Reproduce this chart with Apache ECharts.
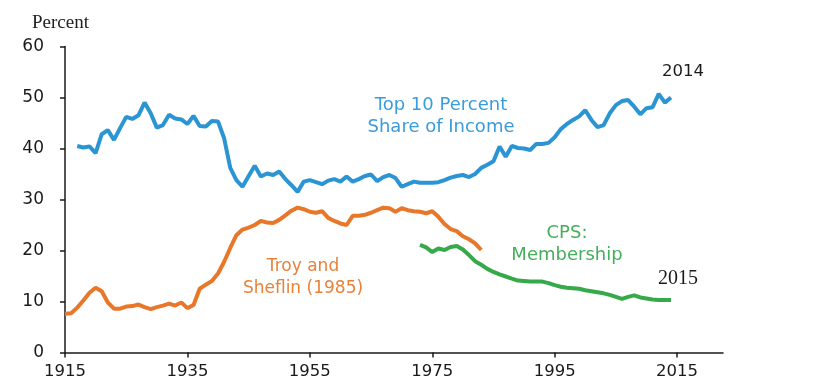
<!DOCTYPE html>
<html>
<head>
<meta charset="utf-8">
<script src="https://cdn.jsdelivr.net/npm/echarts@6/dist/echarts.min.js"></script>
<style>html,body{margin:0;padding:0;background:#fff}#c{width:830px;height:392px}</style>
</head>
<body>
<div id="c"></div>
<script>
// Top 10 percent share of income, 1917-2014
const topYears = [];
for (let y = 1917; y <= 2014; y++) topYears.push(y);
const topShare = [40.5,40.2,40.4,39.1,42.8,43.6,41.7,44.0,46.2,45.8,
  46.5,49.0,46.9,44.1,44.6,46.6,45.9,45.7,44.8,46.4,
  44.4,44.3,45.4,45.3,42.0,36.2,33.8,32.5,34.6,36.6,
  34.5,35.1,34.8,35.5,34.0,32.8,31.5,33.5,33.8,33.4,
  33.0,33.7,34.0,33.5,34.5,33.5,34.0,34.6,34.9,33.6,
  34.4,34.8,34.2,32.5,33.0,33.5,33.3,33.3,33.3,33.4,
  33.8,34.3,34.6,34.8,34.4,35.0,36.2,36.8,37.5,40.4,
  38.4,40.5,40.1,40.0,39.7,40.9,40.9,41.1,42.2,43.8,
  44.8,45.6,46.3,47.5,45.6,44.2,44.6,46.9,48.5,49.3,
  49.5,48.2,46.7,47.9,48.1,50.7,49.0,50.0];

// Troy and Sheflin (1985), 1915-1983
const troyYears = [];
for (let y = 1915; y <= 1983; y++) troyYears.push(y);
const troyShare = [7.6,7.7,8.8,10.2,11.7,12.7,12.0,9.8,8.6,8.6,
  9.0,9.1,9.4,8.9,8.5,8.9,9.2,9.6,9.2,9.8,
  8.7,9.3,12.5,13.3,14.0,15.5,17.8,20.5,23.0,24.1,
  24.5,25.0,25.8,25.5,25.4,26.0,26.9,27.8,28.4,28.1,
  27.6,27.4,27.7,26.4,25.8,25.3,25.0,26.8,26.8,27.0,
  27.4,27.9,28.4,28.3,27.6,28.3,27.9,27.7,27.6,27.3,
  27.7,26.6,25.2,24.2,23.8,22.8,22.2,21.4,20.1];

// CPS: Membership, 1973-2014
const cpsYears = [];
for (let y = 1973; y <= 2014; y++) cpsYears.push(y);
const cpsShare = [21.1,20.6,19.7,20.4,20.1,20.7,20.9,20.2,19.1,17.9,
  17.2,16.4,15.8,15.3,14.9,14.5,14.1,14.0,13.9,13.9,
  13.9,13.6,13.2,12.9,12.7,12.6,12.5,12.2,12.0,11.8,
  11.6,11.3,10.9,10.5,10.9,11.2,10.8,10.6,10.4,10.3,
  10.3,10.3];

const xTicks = [1915, 1935, 1955, 1975, 1995, 2015];
const yTicks = [0, 10, 20, 30, 40, 50, 60];

const pair = (xs, vs) => xs.map((x, i) => [x, vs[i]]);

const chart = echarts.init(document.getElementById('c'), null, {renderer: 'canvas'});
const axisColor = '#1a1a1a';
const tickFont = 'DejaVu Sans';
chart.setOption({
  animation: false,
  backgroundColor: '#fff',
  grid: {left: 65, right: 107, top: 46.5, bottom: 39.5, containLabel: false},
  xAxis: {
    type: 'value', min: 1915, max: 2022.5, interval: 20,
    splitLine: {show: false},
    axisLine: {show: true, lineStyle: {color: axisColor, width: 1.5}},
    axisTick: {show: true, length: 5, lineStyle: {color: axisColor, width: 1.5}, customValues: xTicks},
    axisLabel: {color: axisColor, fontSize: 16.5, fontFamily: tickFont, margin: 11, customValues: xTicks,
      formatter: v => String(v)}
  },
  yAxis: {
    type: 'value', min: 0, max: 60, interval: 10,
    splitLine: {show: false},
    axisLine: {show: true, lineStyle: {color: axisColor, width: 1.5}},
    axisTick: {show: true, length: 5, lineStyle: {color: axisColor, width: 1.5}, customValues: yTicks},
    axisLabel: {color: axisColor, fontSize: 17, fontFamily: tickFont, margin: 21, customValues: yTicks}
  },
  series: [
    {type: 'line', name: 'Top 10 Percent', data: pair(topYears, topShare), showSymbol: false,
      lineStyle: {color: '#2b94d3', width: 4}, itemStyle: {color: '#2b94d3'}},
    {type: 'line', name: 'Troy and Sheflin', data: pair(troyYears, troyShare), showSymbol: false,
      lineStyle: {color: '#e8772a', width: 4}, itemStyle: {color: '#e8772a'}},
    {type: 'line', name: 'CPS', data: pair(cpsYears, cpsShare), showSymbol: false,
      lineStyle: {color: '#36a94a', width: 4}, itemStyle: {color: '#36a94a'}}
  ],
  graphic: [
    {type: 'text', x: 32, y: 23, style: {text: 'Percent', fontFamily: 'Liberation Serif', fontSize: 19,
      fill: '#222', align: 'left', verticalAlign: 'middle'}},
    {type: 'text', x: 441, y: 116, style: {text: 'Top 10 Percent\nShare of Income', fontFamily: 'DejaVu Sans',
      fontSize: 18, lineHeight: 22, fill: '#3a9cdb', align: 'center', verticalAlign: 'middle'}},
    {type: 'text', x: 303, y: 278, style: {text: 'Troy and\nSheflin (1985)', fontFamily: 'DejaVu Sans',
      fontSize: 17, lineHeight: 22, fill: '#e8823a', align: 'center', verticalAlign: 'middle'}},
    {type: 'text', x: 567, y: 244, style: {text: 'CPS:\nMembership', fontFamily: 'DejaVu Sans',
      fontSize: 18, lineHeight: 22, fill: '#45ae5c', align: 'center', verticalAlign: 'middle'}},
    {type: 'text', x: 683, y: 72, style: {text: '2014', fontFamily: 'DejaVu Sans', fontSize: 16.5,
      fill: '#1a1a1a', align: 'center', verticalAlign: 'middle'}},
    {type: 'text', x: 678, y: 279, style: {text: '2015', fontFamily: 'Liberation Serif', fontSize: 20,
      fill: '#1a1a1a', align: 'center', verticalAlign: 'middle'}}
  ]
});
</script>
</body>
</html>
